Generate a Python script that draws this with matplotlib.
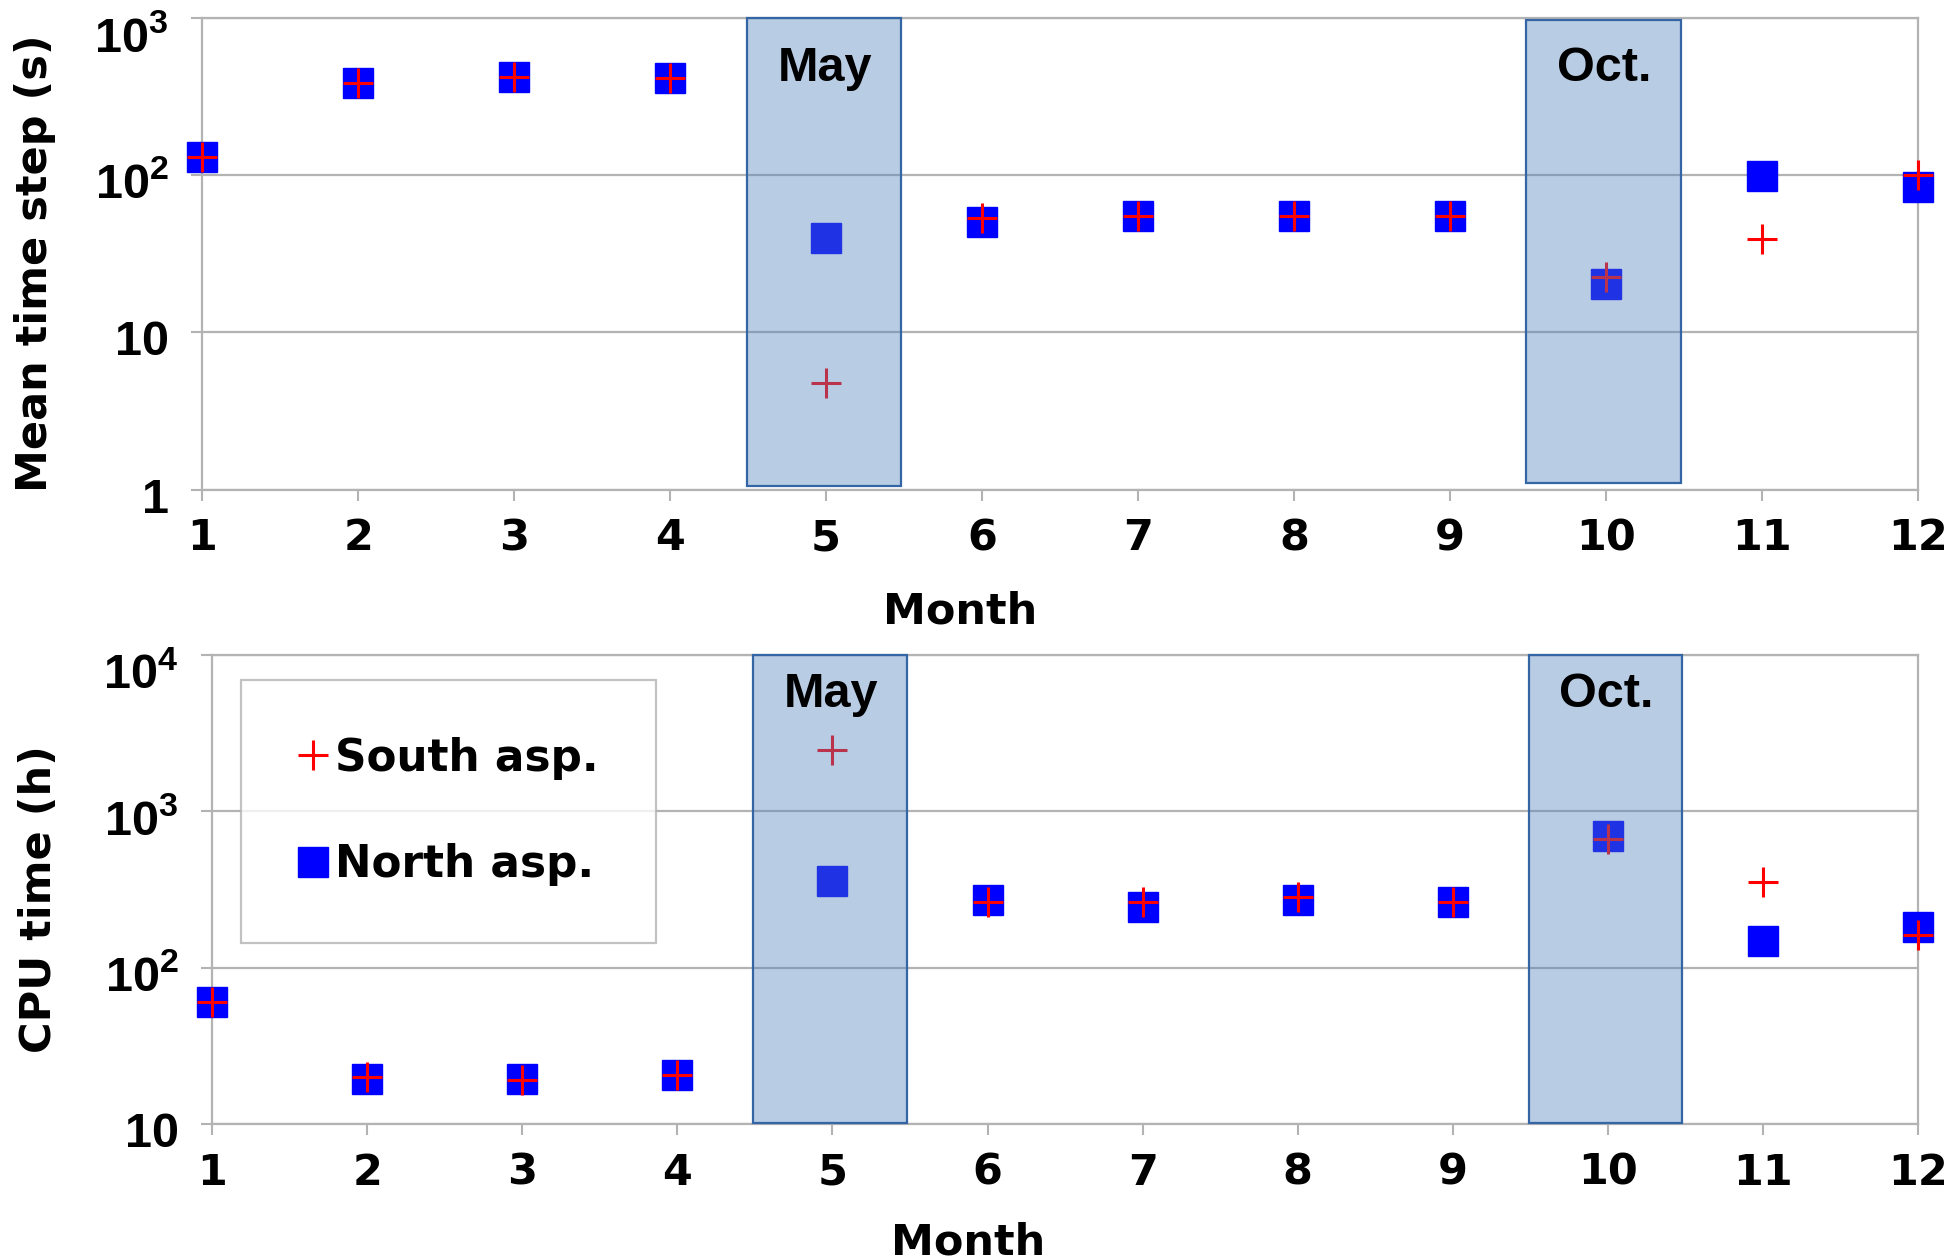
# Mean time step and CPU time per month, south vs north aspect

import matplotlib
matplotlib.use("Agg")
import matplotlib.pyplot as plt
from matplotlib.patches import Rectangle
from matplotlib.transforms import ScaledTranslation


# ── 1. Data ─────────────────────────────────────────────────
months = [1, 2, 3, 4, 5, 6, 7, 8, 9, 10, 11, 12]

step_south = [129, 386, 421, 412, 4.75, 53, 55, 55, 55, 22.3, 39, 100]
step_north = [129, 386, 421, 412, 39.5, 50, 55, 55, 55, 20.3, 98, 84]

cpu_south = [60, 19.9, 19.0, 20.6, 2465, 264, 264, 282, 264, 664, 356, 161]
cpu_north = [60, 19.3, 19.3, 20.6, 357, 272, 244, 272, 263, 693, 149, 181]

highlight_months = [5, 10]
highlight_labels = ["May", "Oct."]

step_ticks = [1, 10, 100, 1000]
step_ticklabels = ["1", "10", r"$\mathregular{10^2}$", r"$\mathregular{10^3}$"]
cpu_ticks = [10, 100, 1000, 10000]
cpu_ticklabels = ["10", r"$\mathregular{10^2}$", r"$\mathregular{10^3}$", r"$\mathregular{10^4}$"]

GRID = "#b3b3b3"
BOX_FACE = "#4f81bd"
BOX_EDGE = "#3465a4"

plt.rcParams["font.family"] = ["DejaVu Sans"]
plt.rcParams["font.weight"] = "bold"
plt.rcParams["mathtext.fontset"] = "custom"
plt.rcParams["mathtext.rm"] = "Liberation Sans:bold"


# ── 2. One panel ────────────────────────────────────────────
def draw_panel(ax, south, north, ticks, ticklabels, ylabel, box_y, text_y):
    ax.set_yscale("log")
    ax.set_xlim(1, 12)
    ax.set_ylim(ticks[0], ticks[-1])

    hn, = ax.plot(months, north, ls="none", marker="s", ms=21, color="#0000ff",
                  mec="#0000ff", clip_on=False, zorder=3, label="North asp.")
    hs, = ax.plot(months, south, ls="none", marker="+", ms=22, mew=2.2,
                  color="#ff0000", clip_on=False, zorder=4, label="South asp.")

    # shaded months drawn over the markers
    for m, lab, (y0, y1) in zip(highlight_months, highlight_labels, box_y):
        ax.add_patch(Rectangle((m - 0.51, y0), 0.99, y1 - y0,
                               transform=ax.get_xaxis_transform(),
                               facecolor=BOX_FACE, alpha=0.4, edgecolor="none",
                               zorder=5, clip_on=False))
        ax.add_patch(Rectangle((m - 0.51, y0), 0.99, y1 - y0,
                               transform=ax.get_xaxis_transform(),
                               facecolor="none", edgecolor=BOX_EDGE, lw=1.6,
                               zorder=5, clip_on=False))
        ax.text(m - 0.01, text_y, lab, transform=ax.get_xaxis_transform(),
                ha="center", va="center", fontsize=35, fontweight="bold",
                family="Liberation Sans", zorder=6)

    ax.set_xticks(months)
    ax.set_xticklabels([str(m) for m in months], fontsize=31, fontweight="bold")
    ax.set_yticks(ticks)
    ax.set_yticklabels(ticklabels, fontsize=35, family="Liberation Sans")
    ax.minorticks_off()
    ax.tick_params(axis="both", direction="out", length=8, width=1.5, color=GRID)
    ax.tick_params(axis="x", pad=12)
    ax.tick_params(axis="y", pad=16)

    # nudge the y tick labels down a little, the top one more
    ylabs = ax.get_yticklabels()
    for i, t in enumerate(ylabs):
        dy = -12 if i == len(ylabs) - 1 else -4
        t.set_transform(t.get_transform() + ScaledTranslation(0, dy / 72, fig.dpi_scale_trans))

    ax.grid(True, axis="y", color=GRID, lw=1.6)
    ax.set_axisbelow(True)
    for s in ax.spines.values():
        s.set_color(GRID)
        s.set_linewidth(1.6)

    ax.set_ylabel(ylabel, fontsize=31, fontweight="bold")
    ax.set_xlabel("Month", fontsize=31, fontweight="bold")
    return hs, hn


# ── 3. Figure ───────────────────────────────────────────────
fig = plt.figure(figsize=(19.58, 12.6), dpi=100)

ax1 = fig.add_axes([0.1032, 0.6115, 0.8764, 0.3746])
draw_panel(ax1, step_south, step_north, step_ticks, step_ticklabels,
           "Mean time step (s)", [(0.008, 1.0), (0.014, 0.995)], 0.892)
ax1.yaxis.set_label_coords(-0.085, 0.48)
ax1.xaxis.set_label_coords(0.442, -0.215)

ax2 = fig.add_axes([0.1083, 0.1079, 0.8713, 0.3722])
hs, hn = draw_panel(ax2, cpu_south, cpu_north, cpu_ticks, cpu_ticklabels,
                    "CPU time (h)", [(0.003, 1.0), (0.003, 1.0)], 0.915)
ax2.yaxis.set_label_coords(-0.089, 0.48)
ax2.xaxis.set_label_coords(0.443, -0.207)

leg = ax2.legend(handles=[hs, hn], loc="upper left", bbox_to_anchor=(0.017, 0.947),
                 fontsize=31.5, frameon=True, fancybox=False, borderpad=1.3,
                 labelspacing=1.45, handlelength=0.7, handletextpad=0.15,
                 borderaxespad=0, markerscale=1.0)
leg.get_frame().set_edgecolor(GRID)
leg.get_frame().set_linewidth(1.6)
leg.set_zorder(7)
for t in leg.get_texts():
    t.set_fontweight("bold")

fig.savefig("out.png", dpi=100)
